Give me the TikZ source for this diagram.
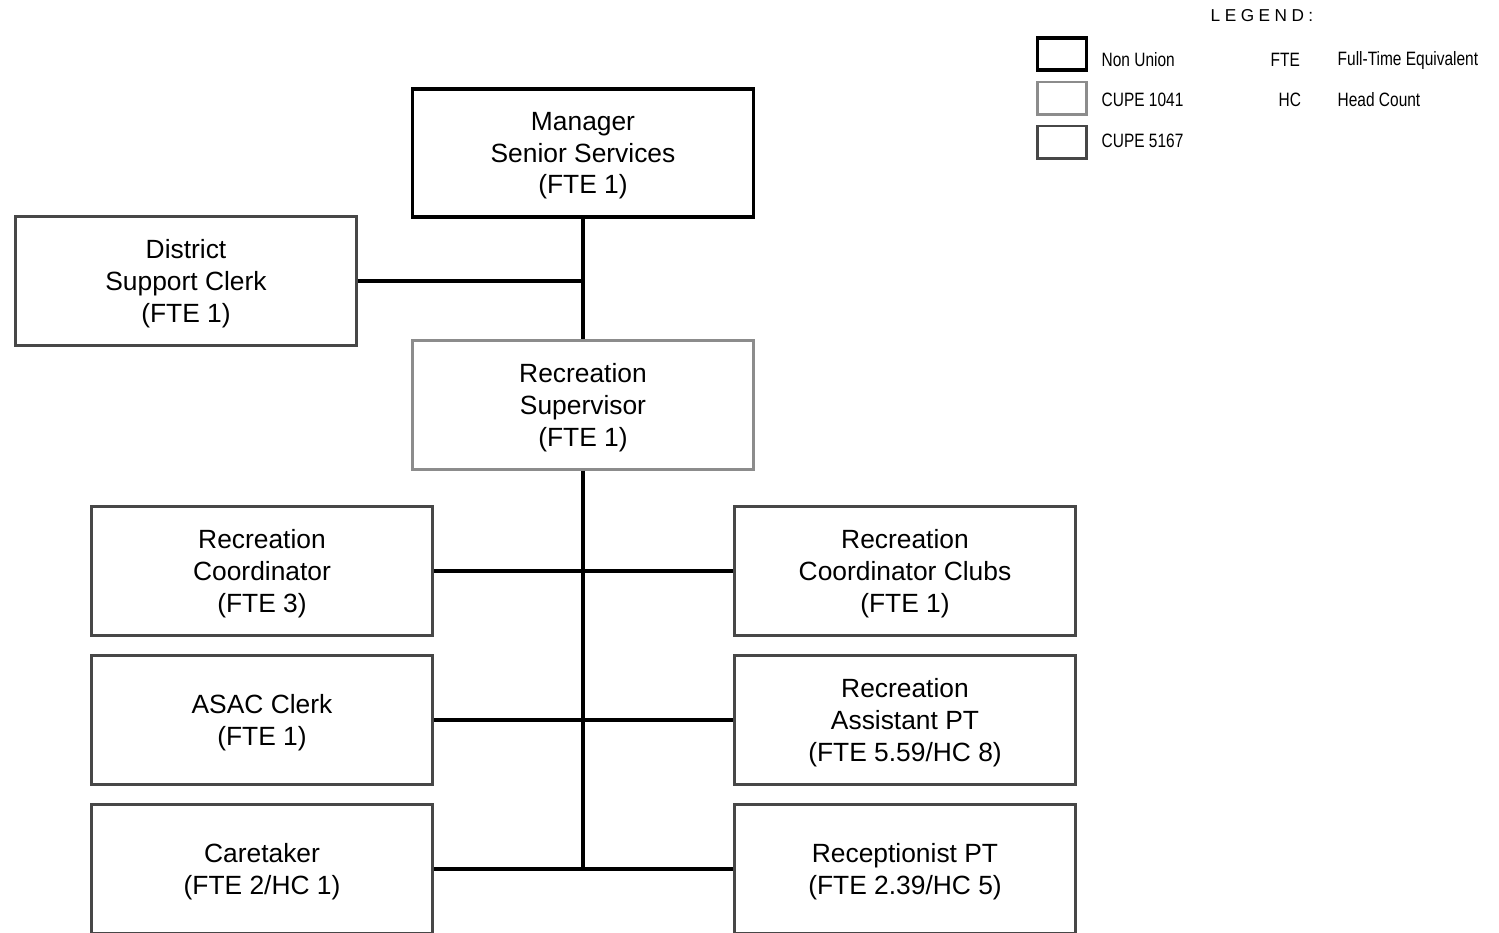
\documentclass[tikz,border=0pt]{standalone}
\usepackage{fontspec}
\setmainfont{Liberation Sans}
\newfontfamily\narrowfont[FakeStretch=0.8]{Liberation Sans}
\newfontfamily\spacedfont[LetterSpace=26]{Liberation Sans}

\begin{document}
\begin{tikzpicture}[x=0.01cm,y=-0.01cm,
    box/.style={draw=black!72,line width=0.85pt,fill=white,minimum width=3.41cm,
        minimum height=1.28cm,align=center,font=\fontsize{7.5}{9.07}\selectfont,
        text depth=-0.6pt},
    nonunion/.style={box,draw=black,line width=1pt},
    cupeA/.style={box,draw=black!45},
    cupeB/.style={box},
    legbox/.style={minimum width=0.49cm,minimum height=0.32cm,text depth=0pt},
    link/.style={line width=0.9pt},
    legtxt/.style={anchor=west,inner sep=0pt,font=\narrowfont\fontsize{5.5}{6}\selectfont}]
    \useasboundingbox (0,0) rectangle (1499,932);
    % the chart
    \node[nonunion] (mgr) at (583,153) {Manager\\Senior Services\\(FTE 1)};
    \node[cupeB] (dsc) at (186,281) {District\\Support Clerk\\(FTE 1)};
    \node[cupeA] (sup) at (583,405) {Recreation\\Supervisor\\(FTE 1)};
    \node[cupeB] (rco) at (262,571) {Recreation\\Coordinator\\(FTE 3)};
    \node[cupeB] (rcc) at (905,571) {Recreation\\Coordinator Clubs\\(FTE 1)};
    \node[cupeB] (asc) at (262,720) {ASAC Clerk\\(FTE 1)};
    \node[cupeB] (ras) at (905,720) {Recreation\\Assistant PT\\(FTE 5.59/HC 8)};
    \node[cupeB] (car) at (262,869) {Caretaker\\(FTE 2/HC 1)};
    \node[cupeB] (rec) at (905,869) {Receptionist PT\\(FTE 2.39/HC 5)};
    \draw[link] (mgr.south) -- (sup.north);
    \draw[link] (dsc.east) -- (dsc.east -| mgr.south);
    \draw[link] (sup.south) -- (sup.south |- car.east);
    \draw[link] (rco.east) -- (rcc.west);
    \draw[link] (asc.east) -- (ras.west);
    \draw[link] (car.east) -- (rec.west);
    % legend
    \node[inner sep=0pt,font=\spacedfont\fontsize{4.9}{6}\selectfont] (leg) at (1262,16) {LEGEND:};
    \node[nonunion,legbox] (lgA) at (1062,54) {};
    \node[cupeA,legbox] (lgB) at (1062,98) {};
    \node[cupeB,legbox] (lgC) at (1062,142) {};
    \node[legtxt] (tA) at (1101,60) {Non Union};
    \node[legtxt] (tB) at (1101,100) {CUPE 1041};
    \node[legtxt] (tC) at (1101,141) {CUPE 5167};
    \node[legtxt] (fte) at (1270,60) {FTE};
    \node[legtxt] (hc) at (1278,100) {HC};
    \node[legtxt] (fteT) at (1337,60) {Full-Time Equivalent};
    \node[legtxt] (hcT) at (1337,100) {Head Count};
\end{tikzpicture}
\end{document}
